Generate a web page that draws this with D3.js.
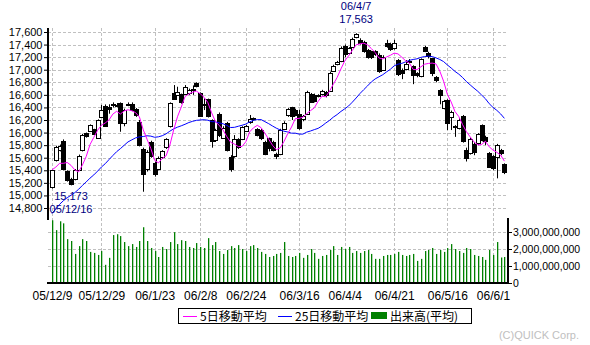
<!DOCTYPE html>
<html>
<head>
<meta charset="utf-8">
<script src="https://cdn.jsdelivr.net/npm/d3@7"></script>
<style>
  body { margin: 0; background: #fff; }
  svg { display: block; font-family: "Liberation Sans", Arial, sans-serif; }
</style>
</head>
<body>
<div id="chart"></div>
<script>
// daily bars, 05/12/9 .. 06/6/6
var open = [15130,15562,15722,15870,15390,15260,15255,15403,15722,15987,
  16029,16050,15918,16252,16422,16400,16450,16440,16464,16146,
  16440,16460,16370,16172,15740,15420,15850,15510,15420,15600,
  15764,16093,16634,16607,16607,16623,16623,16690,16793,16623,
  16440,16528,16199,15880,16300,15920,16150,15614,15615,15891,
  15897,16029,16156,16225,16050,16040,15854,15907,15854,15653,
  15653,16060,16272,16399,16362,16290,16203,16293,16617,16601,
  16590,16612,16640,16665,16980,17089,17132,17370,17260,17370,
  17514,17466,17440,17317,17291,17291,17240,17000,17423,17410,
  17340,17150,17000,17004,17140,17057,16940,16898,17360,17259,
  17179,16887,16675,16394,16516,16250,16100,16080,16260,15720,
  15680,15826,15826,16117,15932,15677,15624,15614,15720,15498];
var high = [15420,15790,15810,15891,15400,15280,15420,15650,15980,16000,
  16130,16060,16210,16440,16448,16450,16480,16470,16480,16380,
  16480,16480,16390,16200,15760,15720,15870,15540,15620,15720,
  15910,16480,16756,16729,16620,16756,16700,16750,16800,16640,
  16544,16540,16210,16060,16320,16100,16170,15640,15960,15910,
  16100,16120,16280,16240,16070,16060,15870,15920,15870,15680,
  16060,16180,16389,16410,16380,16362,16280,16665,16630,16620,
  16610,16680,16660,16970,17079,17140,17370,17400,17360,17510,
  17580,17500,17460,17330,17300,17310,17260,17230,17476,17430,
  17476,17170,17020,17153,17170,17070,16960,17180,17380,17285,
  17190,16900,16690,16520,16530,16350,16118,16230,16280,15760,
  15920,15850,15990,16130,15950,15690,15640,15820,15740,15510];
var low = [15110,15540,15700,15400,15220,15160,15240,15390,15700,15920,
  16010,15960,15900,16240,16100,16300,16400,16400,16013,16100,
  16420,16340,16250,15780,15059,15380,15600,15300,15400,15580,
  15740,16080,16528,16590,16460,16600,16600,16600,16720,16250,
  16358,16240,15760,15850,15930,15900,15700,15377,15600,15740,
  15880,16010,16140,16190,15940,15880,15640,15700,15700,15578,
  15640,16040,16250,16200,16260,16044,16180,16280,16480,16480,
  16560,16590,16560,16650,16970,17070,17120,17200,17240,17350,
  17500,17400,17270,17175,17170,17220,16950,16980,17350,17300,
  17320,16900,16850,16990,17120,16770,16880,16880,17280,17179,
  16898,16800,16450,16370,16040,16040,15932,16050,15840,15540,
  15650,15640,15800,15860,15800,15440,15402,15272,15640,15339];
var close = [15404,15764,15785,15420,15250,15173,15403,15631,15960,15934,
  16119,15976,16199,16358,16111,16361,16440,16420,16146,16358,
  16450,16360,16268,15805,15341,15697,15620,15330,15600,15700,
  15897,16464,16544,16650,16475,16729,16676,16680,16740,16263,
  16448,16252,15865,16040,15960,16080,15720,15429,15891,15764,
  16093,16103,16210,16210,15960,15907,15658,15740,15722,15615,
  16040,16160,16373,16250,16283,16065,16256,16644,16495,16506,
  16580,16665,16600,16946,17052,17121,17344,17240,17340,17492,
  17563,17423,17290,17211,17195,17248,16990,17210,17370,17330,
  17420,16930,16950,17084,17145,16914,16910,17169,17300,17206,
  16941,16845,16600,16500,16155,16330,16090,16200,15860,15598,
  15905,15693,15974,15878,15868,15455,15428,15800,15667,15376];
// closes of the 24 sessions before the first bar (for the moving averages)
var priorClose = [13900,13950,13980,14050,14220,14350,14300,14420,14550,14600,
  14700,14680,14750,14780,14720,14850,14870,14930,15000,15130,
  15550,15480,15420,15183];
// volume, millions of shares
var volume = [3690,3110,3630,3510,2580,2470,1710,2170,2580,2470,
  1830,1770,1650,1880,1070,1480,2820,2870,2760,2410,
  2170,2290,2120,2470,3280,2470,2060,1880,1530,2120,
  2000,2410,2990,2290,2520,2470,2120,2060,2350,2120,
  2060,2640,2230,2410,1880,1710,1940,2170,2060,2230,
  2000,1880,2170,2230,2060,1830,1710,1530,1590,1710,
  1770,2410,1590,1530,1590,1770,1480,1650,2000,1770,
  1420,1590,1650,1940,2170,1650,2120,2000,2120,1770,
  1880,1770,1880,1940,1710,1420,1420,1590,1650,1650,
  1710,1830,1650,1590,1650,1710,1300,1420,1880,1940,
  2060,1710,1940,1830,2060,2290,2000,1880,1770,2060,
  2000,1650,1590,1530,1360,1940,1650,2410,1500,1530];

var tickIdx = [0,13,27,39,51,65,77,90,104,116];
var tickLabels = ["05/12/9","05/12/29","06/1/23","06/2/8","06/2/24","06/3/16","06/4/4","06/4/21","06/5/16","06/6/1"];
var priceTicks = d3.range(14800, 17601, 200);
var volTicks = [0, 1e9, 2e9, 3e9];
var peakDate = "06/4/7", troughDate = "05/12/16";

var width = 590, height = 345;
var left = 48, right = 508, priceTop = 25, priceBottom = 220, volBottom = 283;

var svg = d3.select("#chart").append("svg")
    .attr("width", width)
    .attr("height", height);

var x = d3.scaleLinear().domain([0, 116]).range([52, 493]);
var y = d3.scaleLinear().domain([14800, 17600]).range([208, 32]);
var yv = d3.scaleLinear().domain([0, 3e9]).range([volBottom, 232]);

// moving averages
var allClose = priorClose.concat(close);
function movingAvg(n){
    return close.map(function(d, i){
        var k = i + priorClose.length;
        return d3.mean(allClose.slice(k - n + 1, k + 1));
    });
}
var ma5 = movingAvg(5), ma25 = movingAvg(25);

var grid = "#c0c0c0";

// grid
svg.append("g").selectAll("line")
    .data(priceTicks)
    .enter().append("line")
    .attr("x1", left).attr("x2", right)
    .attr("y1", function(d){ return Math.round(y(d)) + 0.5; })
    .attr("y2", function(d){ return Math.round(y(d)) + 0.5; })
    .attr("stroke", grid).attr("stroke-dasharray", "3,2");

svg.append("g").selectAll("line")
    .data(volTicks.slice(1))
    .enter().append("line")
    .attr("x1", left).attr("x2", right)
    .attr("y1", function(d){ return Math.round(yv(d)) + 0.5; })
    .attr("y2", function(d){ return Math.round(yv(d)) + 0.5; })
    .attr("stroke", grid).attr("stroke-dasharray", "3,2");

svg.append("g").selectAll("line")
    .data(tickIdx)
    .enter().append("line")
    .attr("x1", function(d){ return Math.round(x(d)) + 0.5; })
    .attr("x2", function(d){ return Math.round(x(d)) + 0.5; })
    .attr("y1", 28).attr("y2", volBottom)
    .attr("stroke", grid).attr("stroke-dasharray", "3,2");

// volume bars
svg.append("g").selectAll("rect")
    .data(volume)
    .enter().append("rect")
    .attr("x", function(d, i){ return Math.round(x(i)); })
    .attr("width", 1.3)
    .attr("y", function(d){ return yv(d * 1e6); })
    .attr("height", function(d){ return volBottom - yv(d * 1e6); })
    .attr("fill", "#008000");

// price panel
svg.append("clipPath").attr("id", "clip")
    .append("rect").attr("x", left).attr("y", priceTop)
    .attr("width", right - left).attr("height", priceBottom - priceTop);

var pane = svg.append("g").attr("clip-path", "url(#clip)");

var candle = pane.selectAll(".candle")
    .data(close)
    .enter().append("g")
    .attr("class", "candle");

candle.append("line")
    .attr("x1", function(d, i){ return Math.round(x(i)) + 0.5; })
    .attr("x2", function(d, i){ return Math.round(x(i)) + 0.5; })
    .attr("y1", function(d, i){ return y(high[i]); })
    .attr("y2", function(d, i){ return y(low[i]); })
    .attr("stroke", "#000");

candle.append("rect")
    .attr("x", function(d, i){ return Math.round(x(i)) - 1.5; })
    .attr("width", 4)
    .attr("y", function(d, i){ return Math.round(y(Math.max(open[i], d))) + 0.5; })
    .attr("height", function(d, i){ return Math.max(1, Math.round(Math.abs(y(open[i]) - y(d)))); })
    .attr("fill", function(d, i){ return d >= open[i] ? "#fff" : "#000"; })
    .attr("stroke", "#000");

var line = d3.line()
    .x(function(d, i){ return x(i); })
    .y(function(d){ return y(d); });

pane.append("path").datum(ma25)
    .attr("d", line).attr("fill", "none")
    .attr("stroke", "#0000ff").attr("stroke-width", 1);
pane.append("path").datum(ma5)
    .attr("d", line).attr("fill", "none")
    .attr("stroke", "#ff00ff").attr("stroke-width", 1);

// axes
var yAxis = d3.axisLeft(y).tickValues(priceTicks)
    .tickFormat(d3.format(",")).tickSize(4).tickPadding(1.5);
svg.append("g")
    .attr("transform", "translate(" + left + ",0)")
    .call(yAxis)
    .call(function(g){ g.select(".domain").remove(); })
    .selectAll("text").style("font-size", "11px").attr("fill", "#000");

var vAxis = d3.axisRight(yv).tickValues(volTicks)
    .tickFormat(d3.format(",")).tickSize(4).tickPadding(1);
svg.append("g")
    .attr("transform", "translate(" + right + ",0)")
    .call(vAxis)
    .call(function(g){ g.select(".domain").remove(); })
    .selectAll("text").style("font-size", "10.5px").attr("fill", "#000");

var xAxis = d3.axisBottom(x).tickValues(tickIdx)
    .tickFormat(function(d, i){ return tickLabels[i]; })
    .tickSize(0).tickPadding(8.5);
svg.append("g")
    .attr("transform", "translate(0," + volBottom + ")")
    .call(xAxis)
    .call(function(g){ g.select(".domain").remove(); })
    .selectAll("text").style("font-size", "12px").attr("fill", "#000");

// axis lines
svg.append("line").attr("x1", left).attr("x2", left)
    .attr("y1", 28).attr("y2", priceBottom)
    .attr("stroke", "#000").attr("stroke-width", 2);
svg.append("line").attr("x1", right).attr("x2", right)
    .attr("y1", priceBottom - 2).attr("y2", volBottom + 1)
    .attr("stroke", "#000").attr("stroke-width", 2);
svg.append("line").attr("x1", left - 1).attr("x2", right + 1)
    .attr("y1", volBottom).attr("y2", volBottom)
    .attr("stroke", "#000").attr("stroke-width", 2);

// high / low labels
var fmt = d3.format(",");
var hi = d3.maxIndex(close), lo = d3.minIndex(close);
var note = svg.append("g").attr("fill", "#000080")
    .style("font-size", "11px").attr("text-anchor", "middle");
note.append("text").attr("x", x(hi)).attr("y", 10).text(peakDate);
note.append("text").attr("x", x(hi)).attr("y", 23).text(fmt(close[hi]));
note.append("text").attr("x", x(lo)).attr("y", 199.5).text(fmt(close[lo]));
note.append("text").attr("x", x(lo)).attr("y", 212.5).text(troughDate);

// legend
var lg = svg.append("g").style("font-family", "'Noto Sans CJK JP', sans-serif")
    .style("font-size", "12px");
lg.append("rect").attr("x", 178.5).attr("y", 308.5).attr("width", 293).attr("height", 15)
    .attr("fill", "#fff").attr("stroke", "#000");
lg.append("line").attr("x1", 183).attr("x2", 197).attr("y1", 316.5).attr("y2", 316.5)
    .attr("stroke", "#ff00ff");
lg.append("text").attr("x", 200).attr("y", 320.5).text("5日移動平均");
lg.append("line").attr("x1", 278).attr("x2", 292).attr("y1", 316.5).attr("y2", 316.5)
    .attr("stroke", "#0000ff");
lg.append("text").attr("x", 295).attr("y", 320.5).text("25日移動平均");
lg.append("rect").attr("x", 371).attr("y", 312).attr("width", 16).attr("height", 7)
    .attr("fill", "#008000");
lg.append("text").attr("x", 390).attr("y", 320.5).text("出来高(平均)");

svg.append("text").attr("x", 579).attr("y", 339)
    .attr("text-anchor", "end").attr("fill", "#c0c0c0")
    .style("font-size", "11px").text("(C)QUICK Corp.");
</script>
</body>
</html>
